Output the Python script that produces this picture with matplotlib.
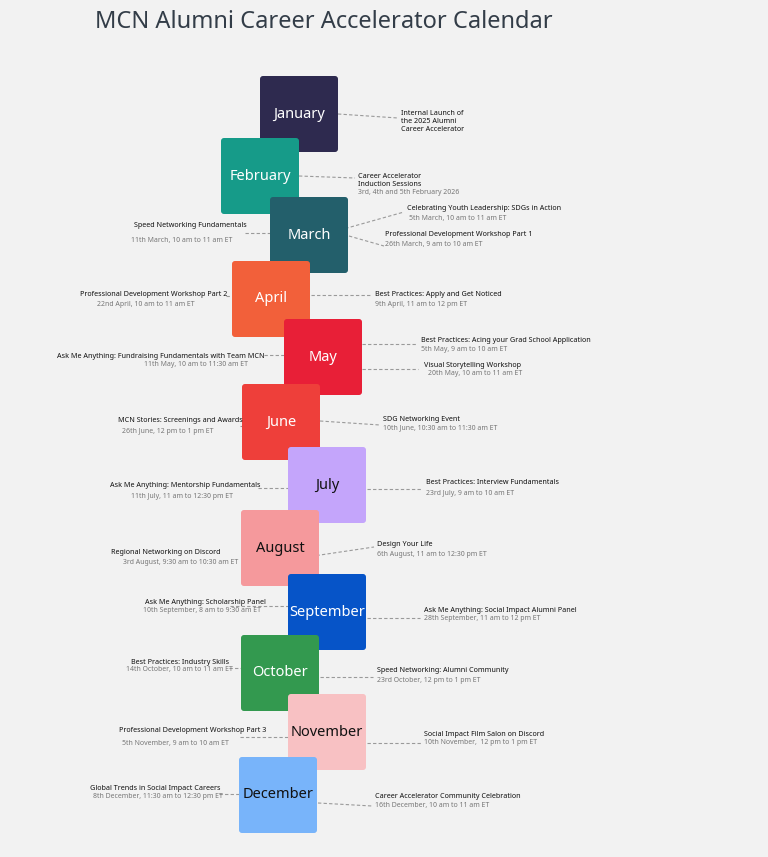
import matplotlib
matplotlib.use("Agg")
import matplotlib.pyplot as plt
from matplotlib.patches import FancyBboxPatch

plt.rcParams['font.family'] = ['Noto Sans', 'DejaVu Sans']

months = ["January", "February", "March", "April", "May", "June", "July",
          "August", "September", "October", "November", "December"]
month_colors = ["#2e2a4f", "#169b89", "#235f6b", "#f2603a", "#e81f37", "#ee3f3a",
                "#c4a5fb", "#f5999c", "#0654c8", "#33994f", "#f8c1c3", "#78b4fa"]
month_text = ["white"] * 6 + ["#111111", "#111111", "white", "white", "#111111", "#111111"]

event_titles = [
    "Internal Launch of\nthe 2025 Alumni\nCareer Accelerator",
    "Career Accelerator\nInduction Sessions",
    "Speed Networking Fundamentals",
    "Celebrating Youth Leadership: SDGs in Action",
    "Professional Development Workshop Part 1",
    "Professional Development Workshop Part 2",
    "Best Practices: Apply and Get Noticed",
    "Best Practices: Acing your Grad School Application",
    "Visual Storytelling Workshop",
    "Ask Me Anything: Fundraising Fundamentals with Team MCN",
    "MCN Stories: Screenings and Awards",
    "SDG Networking Event",
    "Ask Me Anything: Mentorship Fundamentals",
    "Best Practices: Interview Fundamentals",
    "Regional Networking on Discord",
    "Design Your Life",
    "Ask Me Anything: Scholarship Panel",
    "Ask Me Anything: Social Impact Alumni Panel",
    "Best Practices: Industry Skills",
    "Speed Networking: Alumni Community",
    "Professional Development Workshop Part 3",
    "Social Impact Film Salon on Discord",
    "Global Trends in Social Impact Careers",
    "Career Accelerator Community Celebration",
]
event_dates = [
    "",
    "3rd, 4th and 5th February 2026",
    "11th March, 10 am to 11 am ET",
    "5th March, 10 am to 11 am ET",
    "26th March, 9 am to 10 am ET",
    "22nd April, 10 am to 11 am ET",
    "9th April, 11 am to 12 pm ET",
    "5th May, 9 am to 10 am ET",
    "20th May, 10 am to 11 am ET",
    "11th May, 10 am to 11:30 am ET",
    "26th June, 12 pm to 1 pm ET",
    "10th June, 10:30 am to 11:30 am ET",
    "11th July, 11 am to 12:30 pm ET",
    "23rd July, 9 am to 10 am ET",
    "3rd August, 9:30 am to 10:30 am ET",
    "6th August, 11 am to 12:30 pm ET",
    "10th September, 8 am to 9:30 am ET",
    "28th September, 11 am to 12 pm ET",
    "14th October, 10 am to 11 am ET",
    "23rd October, 12 pm to 1 pm ET",
    "5th November, 9 am to 10 am ET",
    "10th November,  12 pm to 1 pm ET",
    "8th December, 11:30 am to 12:30 pm ET",
    "16th December, 10 am to 11 am ET",
]

# ---- layout (pixel coordinates) ----
box_xy = [(260, 76), (221, 138), (270, 197), (232, 261), (284, 319), (242, 384),
          (288, 447), (241, 510), (288, 574), (241, 635), (288, 694), (239, 757)]
BW, BH = 78, 76
# side, title x, title y, date x, date y, line (x0,y0,x1,y1)
ev_layout = [
    ("R", 401, 110, 401, 0, (338, 114, 398, 118)),
    ("R", 358, 173, 358, 192, (299, 176, 355, 178)),
    ("L", 190, 225, 182, 240, (245, 233, 292, 233)),
    ("R", 407, 208, 409, 218, (340, 230, 404, 212)),
    ("R", 385, 234, 385, 244, (349, 236, 384, 246)),
    ("L", 154, 295, 146, 305, (226, 296, 232, 296)),
    ("R", 375, 295, 375, 305, (311, 295, 370, 295)),
    ("R", 421, 341, 421, 349, (362, 344, 416, 344)),
    ("R", 424, 365, 428, 373, (362, 369, 418, 369)),
    ("L", 161, 356, 196, 364, (264, 355, 305, 355)),
    ("L", 180, 420, 168, 431, (240, 426, 262, 426)),
    ("R", 383, 419, 383, 428, (320, 421, 380, 425)),
    ("L", 185, 485, 182, 496, (258, 488, 300, 488)),
    ("R", 426, 482, 426, 493, (367, 489, 422, 489)),
    ("L", 166, 553, 181, 562, (250, 557, 280, 557)),
    ("R", 377, 545, 377, 554, (300, 558, 374, 547)),
    ("L", 205, 602, 202, 611, (230, 606, 295, 606)),
    ("R", 424, 610, 424, 618, (367, 618, 420, 618)),
    ("L", 180, 663, 179, 670, (229, 668, 245, 668)),
    ("R", 377, 671, 377, 680, (320, 677, 373, 677)),
    ("L", 193, 731, 175, 743, (240, 737, 300, 737)),
    ("R", 424, 735, 424, 743, (367, 743, 422, 743)),
    ("L", 155, 788, 158, 796, (219, 794, 250, 794)),
    ("R", 375, 797, 375, 806, (318, 803, 372, 806)),
]

fig = plt.figure(figsize=(7.68, 8.57), dpi=100)
fig.patch.set_facecolor("#f2f2f2")
ax = fig.add_axes([0, 0, 1, 1])
ax.set_xlim(0, 768)
ax.set_ylim(857, 0)
ax.axis("off")

ax.text(95, 22, "MCN Alumni Career Accelerator Calendar", fontsize=17, fontweight="bold",
        color="#333d48", ha="left", va="center")

# connector lines (drawn under boxes)
for side, tx, ty, dx, dy, (x0, y0, x1, y1) in ev_layout:
    ax.plot([x0, x1], [y0, y1], ls=(0, (3, 2)), color="#9a9a9a", lw=0.8, zorder=1)

for (x, y), m, c, tc in zip(box_xy, months, month_colors, month_text):
    ax.add_patch(FancyBboxPatch((x, y), BW, BH, boxstyle="round,pad=0,rounding_size=3",
                                fc=c, ec="none", zorder=2))
    ax.text(x + BW / 2, y + BH / 2, m, color=tc, fontsize=10.5, fontweight="bold",
            ha="center", va="center", zorder=3)

for (side, tx, ty, dx, dy, ln), t, d in zip(ev_layout, event_titles, event_dates):
    ha = "left" if side == "R" else "center"
    ax.text(tx, ty, t, fontsize=5.2, fontweight="bold", color="#111111", ha=ha,
            va="center" if "\n" not in t else "top", linespacing=1.2, zorder=4)
    if d:
        ax.text(dx, dy, d, fontsize=5.0, color="#777777", ha=ha, va="center", zorder=4)

fig.savefig("out.png", dpi=100, facecolor=fig.get_facecolor())
